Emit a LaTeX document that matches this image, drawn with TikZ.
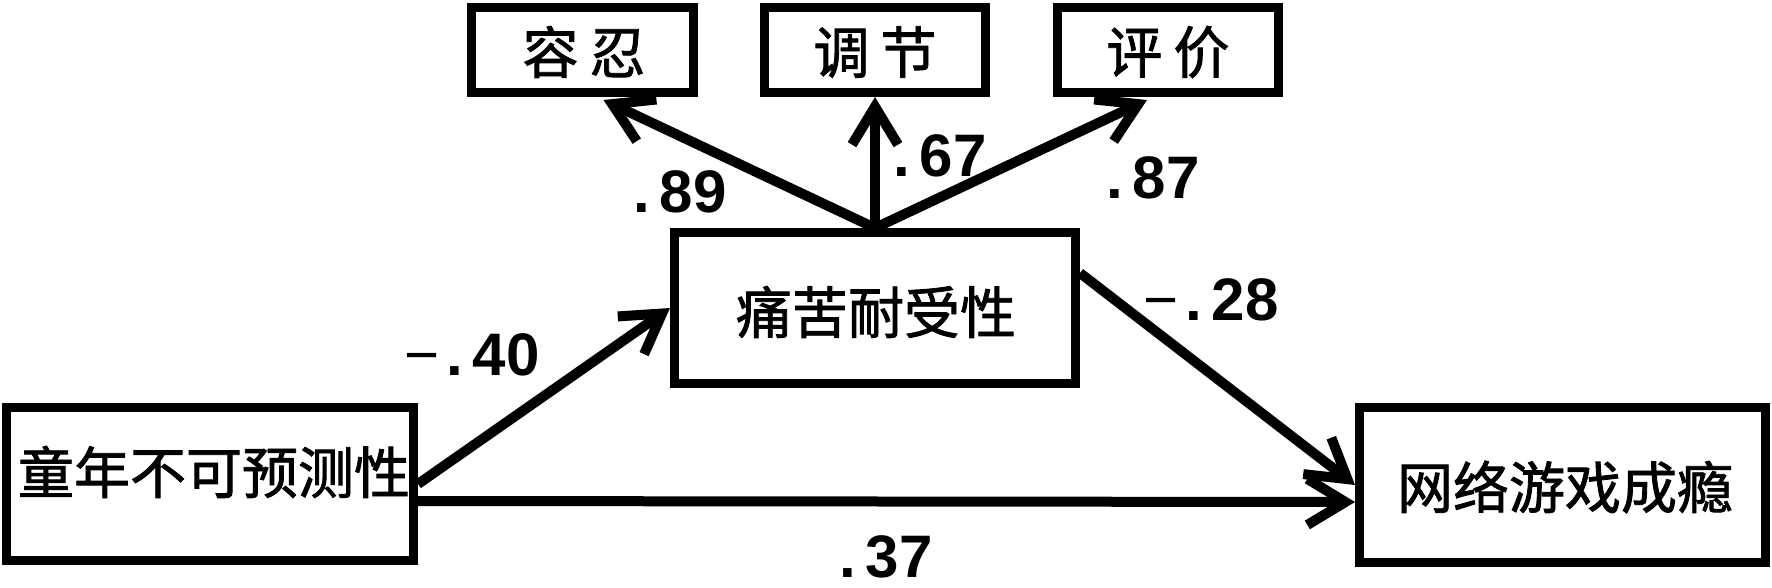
\documentclass[tikz,border=0pt]{standalone}
\usepackage{fontspec}
\newfontfamily\cjk[FakeBold=1.5]{Noto Sans CJK SC}
\newfontfamily\numf{Liberation Sans}
\usetikzlibrary{arrows.meta}
\newcommand\negsign{{\mdseries −}}
\begin{document}
\begin{tikzpicture}[x=1pt,y=-1pt,
  box/.style={draw=black, line width=9pt, fill=white, inner sep=0pt},
  txt/.style={font=\cjk\fontsize{56}{60}\selectfont, inner sep=0pt},
  num/.style={font=\numf\bfseries\fontsize{60}{64}\selectfont, inner sep=0pt},
  arr/.style={line width=10pt, -{Straight Barb[length=38pt,width=46pt]}}]
\useasboundingbox (0,0) rectangle (1772,587);
\fill[white] (0,0) rectangle (1772,587);
% boxes
\node[box, minimum width=407pt, minimum height=153pt] (L) at (210,484) {};
\node[box, minimum width=406pt, minimum height=155pt] (R) at (1562.5,485) {};
\node[box, minimum width=401pt, minimum height=151pt] (M) at (875,308) {};
\node[box, minimum width=222pt, minimum height=85pt] (K) at (582.5,50) {};
\node[box, minimum width=221pt, minimum height=85pt] (T) at (875,50) {};
\node[box, minimum width=221pt, minimum height=85pt] (P) at (1168,50) {};
% texts
\node[txt] (Lt) at (214,472) {童年不可预测性};
\node[txt] (Rt) at (1565,487) {网络游戏成瘾};
\node[txt] (Mt) at (876,312) {痛苦耐受性};
\node[txt] (Kt) at (584,52) {容\hspace{11pt}忍};
\node[txt] (Tt) at (875,52) {调\hspace{11pt}节};
\node[txt] (Pt) at (1168,52) {评\hspace{11pt}价};
% arrows
\draw[arr] (M.north) -- ([xshift=21pt,yshift=-3pt]K.south);
\draw[arr] (M.north) -- (T.south);
\draw[arr] (M.north) -- ([xshift=-21pt,yshift=-3pt]P.south);
\draw[arr] (L.east) -- (M.west);
\draw[arr] ([yshift=35pt]M.east) -- (R.west);
\draw[arr] ([yshift=-17pt]L.east) -- ([yshift=-17pt]R.west);
% labels
\node[num] (l89) at (680,192) {.\hspace{10pt}89};
\node[num] (l67) at (940,156) {.\hspace{10pt}67};
\node[num] (l87) at (1153,178) {.\hspace{10pt}87};
\node[num] (l40) at (472,355) {\negsign\hspace{7pt}.\hspace{10pt}40};
\node[num] (l28) at (1211,300) {\negsign\hspace{7pt}.\hspace{10pt}28};
\node[num] (l37) at (886,557) {.\hspace{10pt}37};
\end{tikzpicture}
\end{document}
